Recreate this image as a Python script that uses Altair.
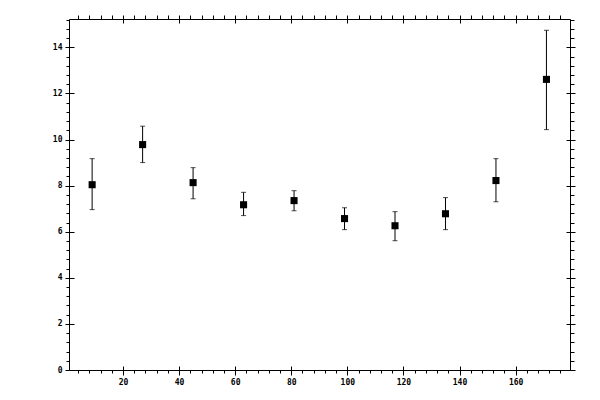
import altair as alt
import pandas as pd

# data
x_centers = [9, 27, 45, 63, 81, 99, 117, 135, 153, 171]
y_values = [8.04, 9.78, 8.13, 7.17, 7.35, 6.57, 6.26, 6.78, 8.22, 12.61]
y_low = [6.96, 9.00, 7.43, 6.70, 6.91, 6.09, 5.61, 6.09, 7.30, 10.43]
y_high = [9.17, 10.58, 8.78, 7.71, 7.78, 7.04, 6.87, 7.48, 9.17, 14.74]

x_major = [20, 40, 60, 80, 100, 120, 140, 160]
x_minor = [v for v in range(4, 180, 4) if v % 20 != 0]
y_major = [0, 2, 4, 6, 8, 10, 12, 14]
y_minor = [round(i * 0.4, 1) for i in range(1, 39) if i % 5 != 0]

df = pd.DataFrame({"x": x_centers, "y": y_values, "lo": y_low, "hi": y_high})

xs = alt.Scale(domain=[0.75, 179.4], nice=False, zero=False)
ys = alt.Scale(domain=[0, 15.23], nice=False, zero=False)

FONT = "DejaVu Sans Mono"


def ax(orient, values, tick, labels=False, domain=False, offset=0, pad=3):
    kw = dict(orient=orient, values=values, tickSize=tick, labels=labels,
              domain=domain, grid=False, title=None, offset=offset,
              tickColor="black", domainColor="black", tickWidth=1, domainWidth=1)
    if labels:
        kw.update(labelFont=FONT, labelFontSize=8, labelColor="black",
                  labelPadding=pad, format="d", labelFontWeight="bold")
    return alt.Axis(**kw)


base = alt.Chart(df)

points = base.mark_square(size=50, color="black", opacity=1, filled=True).encode(
    x=alt.X("x:Q", scale=xs, axis=ax("bottom", x_major, 5, labels=True, domain=True, pad=3)),
    y=alt.Y("y:Q", scale=ys, axis=ax("left", y_major, 4, labels=True, domain=True, pad=3)),
)

rules = base.mark_rule(color="black", strokeWidth=1).encode(
    x=alt.X("x:Q", scale=xs, axis=ax("top", x_major, 4, domain=True)),
    y=alt.Y("lo:Q", scale=ys, axis=ax("right", y_major, 5, domain=True)),
    y2="hi:Q",
)

cap_lo = base.mark_tick(color="black", orient="horizontal", size=5, thickness=1).encode(
    x=alt.X("x:Q", scale=xs, axis=ax("bottom", x_minor, 3)),
    y=alt.Y("lo:Q", scale=ys, axis=ax("left", y_minor, 3)),
)

cap_hi = base.mark_tick(color="black", orient="horizontal", size=5, thickness=1).encode(
    x=alt.X("x:Q", scale=xs, axis=ax("top", x_minor, 4)),
    y=alt.Y("hi:Q", scale=ys, axis=ax("right", y_minor, 4)),
)

inv1 = base.mark_point(opacity=0).encode(
    x=alt.X("x:Q", scale=xs, axis=ax("bottom", x_major, 4, offset=-4)),
    y=alt.Y("y:Q", scale=ys, axis=ax("left", y_major, 5, offset=-5)),
)

inv2 = base.mark_point(opacity=0).encode(
    x=alt.X("x:Q", scale=xs, axis=ax("top", x_major, 4, offset=-4)),
    y=alt.Y("y:Q", scale=ys, axis=ax("right", y_major, 4, offset=-4)),
)

chart = (
    alt.layer(rules, cap_lo, cap_hi, inv1, inv2, points)
    .resolve_axis(x="independent", y="independent")
    .properties(
        width=501,
        height=351,
        autosize="none",
        padding={"left": 61, "top": 11, "right": 22, "bottom": 22},
        background="white",
    )
    .configure_view(strokeWidth=0)
)

chart.save("out.html", embed_options={"renderer": "svg", "actions": False})
